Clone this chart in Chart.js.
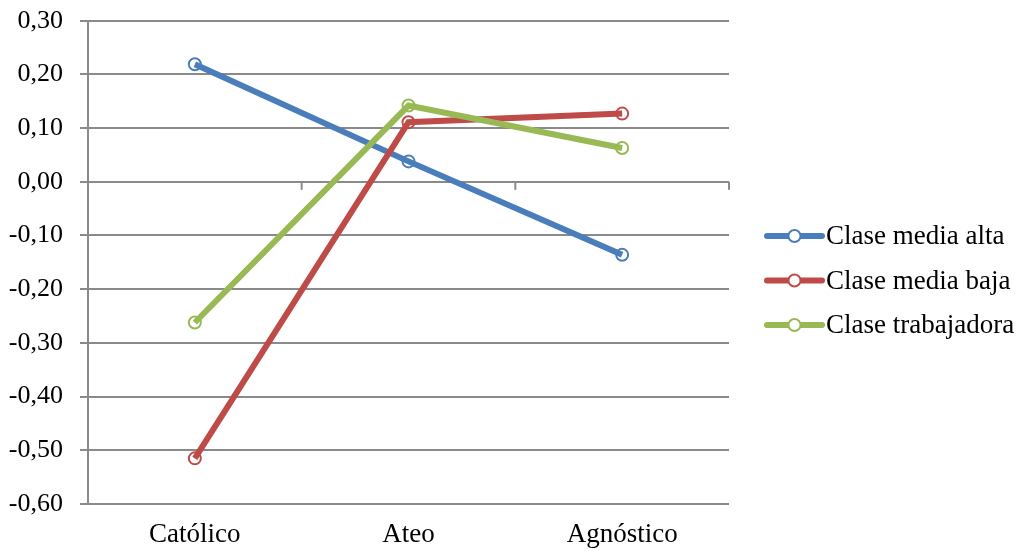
<!DOCTYPE html>
<html>
<head>
<meta charset="utf-8">
<script src="https://cdn.jsdelivr.net/npm/chart.js@4/dist/chart.umd.min.js"></script>
<style>
  html, body { margin: 0; padding: 0; background: #ffffff; }
  #wrap { width: 1016px; height: 551px; position: relative; }
</style>
</head>
<body>
<div id="wrap"><canvas id="c" width="1016" height="551"></canvas></div>
<script>
// Categories and series values
const categories = ['Católico', 'Ateo', 'Agnóstico'];
const seriesNames = ['Clase media alta', 'Clase media baja', 'Clase trabajadora'];
const claseMediaAlta = [0.219, 0.038, -0.136];
const claseMediaBaja = [-0.515, 0.111, 0.127];
const claseTrabajadora = [-0.262, 0.142, 0.063];
const yMin = -0.6, yMax = 0.3, yStep = 0.1;

const seriesColors = ['#4A7EBB', '#BE4B48', '#98B954'];
const FONT = 'Liberation Serif, "Times New Roman", serif';
const GRID = '#8a8a8a';

const seriesValues = [claseMediaAlta, claseMediaBaja, claseTrabajadora];
const datasets = seriesValues.map((vals, i) => ({
  label: seriesNames[i],
  data: vals,
  borderColor: seriesColors[i],
  backgroundColor: seriesColors[i],
  borderWidth: 6,
  pointRadius: 6,
  pointHoverRadius: 6,
  pointBorderWidth: 2,
  pointBackgroundColor: 'rgba(255,255,255,0)',
  pointBorderColor: seriesColors[i],
  tension: 0,
  order: seriesValues.length - i
}));

// Short tick marks along the zero line, at category boundaries
const zeroTicks = {
  id: 'zeroTicks',
  beforeDatasetsDraw(chart) {
    const x = chart.scales.x, y = chart.scales.y;
    const y0 = y.getPixelForValue(0);
    const ctx = chart.ctx;
    ctx.save();
    ctx.strokeStyle = GRID;
    ctx.lineWidth = 2;
    const n = categories.length;
    for (let i = 0; i <= n; i++) {
      const px = x.left + (x.right - x.left) * i / n;
      ctx.beginPath();
      ctx.moveTo(px, y0);
      ctx.lineTo(px, y0 + 8);
      ctx.stroke();
    }
    ctx.restore();
  }
};

// Legend on the right: line sample with a hollow marker, then the series name
const sideLegend = {
  id: 'sideLegend',
  afterDraw(chart) {
    const ctx = chart.ctx;
    const ds = chart.data.datasets;
    const rowGap = 44.5;
    const cy = chart.height / 2 + 5;
    const x0 = 767, x1 = 822;
    ctx.save();
    ds.forEach((d, i) => {
      const y = cy + (i - (ds.length - 1) / 2) * rowGap;
      ctx.strokeStyle = d.borderColor;
      ctx.lineWidth = 6;
      ctx.lineCap = 'round';
      ctx.beginPath();
      ctx.moveTo(x0, y);
      ctx.lineTo(x1, y);
      ctx.stroke();
      ctx.lineWidth = 2;
      ctx.fillStyle = '#ffffff';
      ctx.beginPath();
      ctx.arc((x0 + x1) / 2, y, 6, 0, Math.PI * 2);
      ctx.fill();
      ctx.stroke();
      ctx.fillStyle = '#000000';
      ctx.font = '27px ' + FONT;
      ctx.textBaseline = 'middle';
      ctx.textAlign = 'left';
      ctx.fillText(d.label, x1 + 4, y + 1);
    });
    ctx.restore();
  }
};

new Chart(document.getElementById('c'), {
  type: 'line',
  data: { labels: categories, datasets: datasets },
  options: {
    responsive: false,
    animation: false,
    devicePixelRatio: 1,
    layout: { padding: { top: 20.7, right: 287, bottom: 0, left: 0 } },
    plugins: {
      legend: { display: false },
      tooltip: { enabled: false }
    },
    scales: {
      x: {
        offset: true,
        grid: { display: false, drawTicks: false },
        border: { display: false },
        ticks: { color: '#000', font: { family: FONT, size: 27 }, padding: 15, maxRotation: 0 },
        afterFit(scale) { scale.height = 47; }
      },
      y: {
        min: yMin,
        max: yMax,
        ticks: {
          stepSize: yStep,
          color: '#000',
          font: { family: FONT, size: 26 },
          padding: 17,
          callback: v => (Math.round(v * 100) / 100).toFixed(2).replace('.', ',')
        },
        grid: { color: GRID, lineWidth: 2, tickLength: 8, tickColor: GRID },
        border: { color: GRID, width: 2 },
        afterFit(scale) {
          scale.width = 88;
          scale.paddingTop = 0;
          scale.paddingBottom = 0;
        }
      }
    }
  },
  plugins: [zeroTicks, sideLegend]
});
</script>
</body>
</html>
